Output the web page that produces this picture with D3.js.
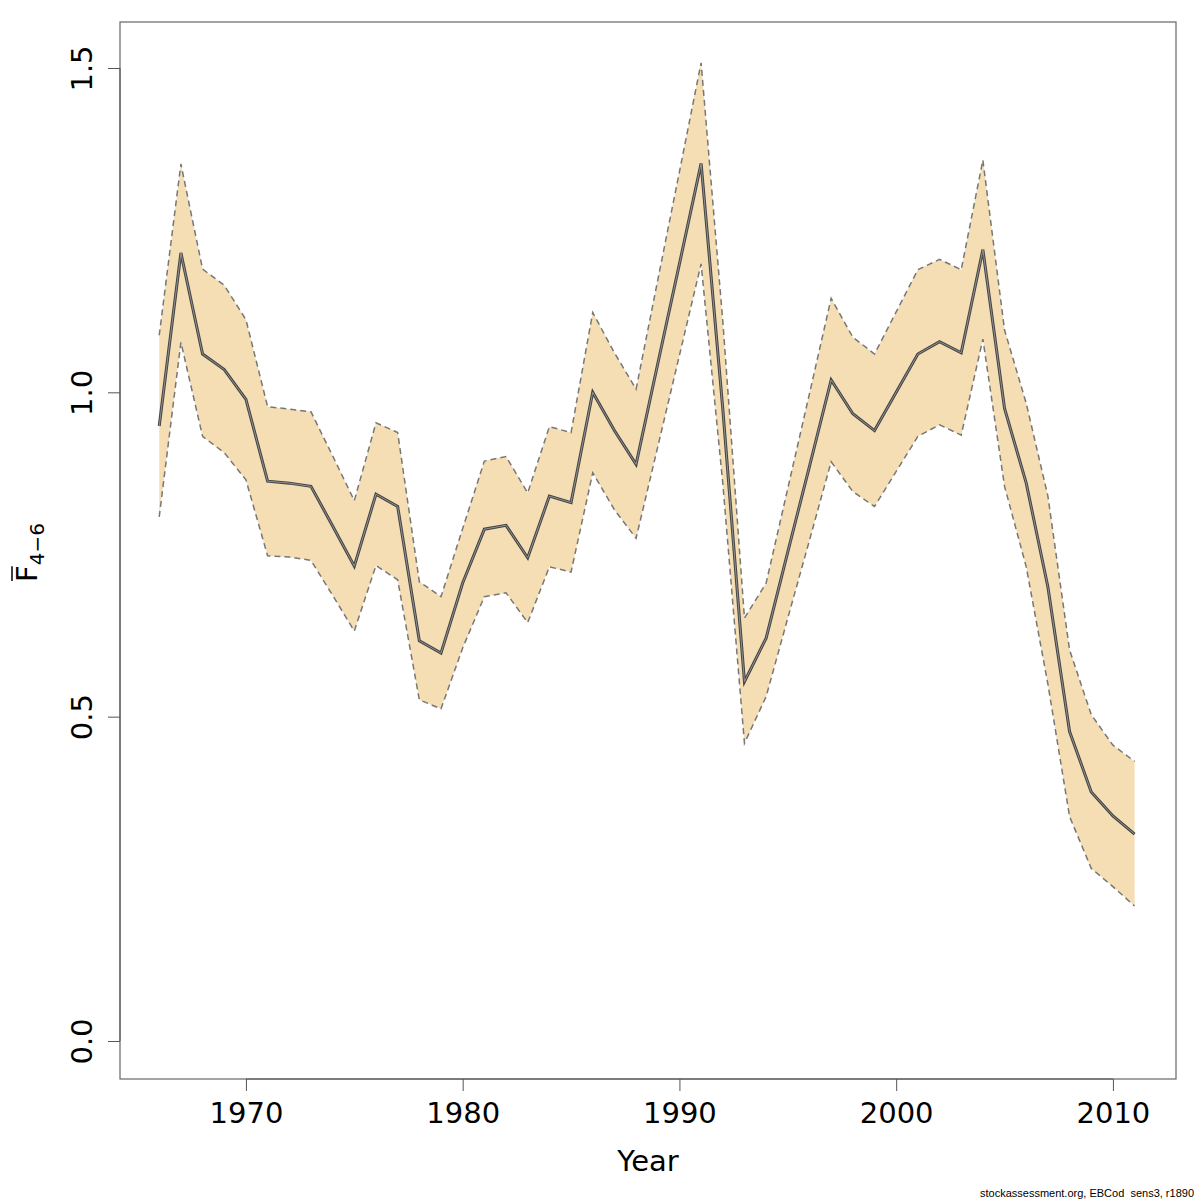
<!DOCTYPE html>
<html>
<head>
<meta charset="utf-8">
<script src="https://cdn.jsdelivr.net/npm/d3@7"></script>
<style>
  html, body { margin: 0; padding: 0; background: #fff; }
  svg { display: block; }
</style>
</head>
<body>
<script>
const years = d3.range(1966, 2012);
const fbar = [0.948,1.215,1.059,1.035,0.989,0.863,0.860,0.855,0.794,0.732,
  0.843,0.824,0.617,0.598,0.706,0.789,0.795,0.745,0.840,0.830,
  1.000,0.941,0.889,1.044,1.198,1.353,0.975,0.554,0.621,0.754,
  0.886,1.019,0.967,0.941,1.000,1.059,1.078,1.061,1.220,0.975,
  0.860,0.700,0.477,0.384,0.347,0.319];
const upper = [1.088,1.352,1.190,1.165,1.112,0.978,0.974,0.970,0.902,0.833,
  0.953,0.938,0.708,0.685,0.790,0.894,0.901,0.845,0.947,0.938,
  1.123,1.061,1.005,1.173,1.340,1.508,1.110,0.652,0.706,0.852,
  0.998,1.145,1.085,1.059,1.124,1.189,1.205,1.189,1.358,1.096,
  0.983,0.840,0.603,0.503,0.456,0.431];
const lower = [0.808,1.077,0.932,0.907,0.865,0.748,0.746,0.741,0.687,0.632,
  0.733,0.711,0.526,0.512,0.606,0.685,0.691,0.645,0.731,0.723,
  0.876,0.819,0.775,0.916,1.057,1.198,0.860,0.459,0.531,0.652,
  0.772,0.893,0.847,0.824,0.878,0.932,0.950,0.934,1.082,0.855,
  0.731,0.550,0.346,0.266,0.238,0.208];
const xTicks = [1970, 1980, 1990, 2000, 2010];
const yTicks = [0.0, 0.5, 1.0, 1.5];
const xLabel = "Year";
const footer = "stockassessment.org, EBCod  sens3, r1890";

const W = 1200, H = 1200;
const L = 120, R = 1176, T = 22, B = 1079;

const svg = d3.select("body").append("svg").attr("width", W).attr("height", H)
  .style("font-family", "'DejaVu Sans', sans-serif");

const x = d3.scaleLinear().domain([1964.19, 2012.91]).range([L, R]);
const y = d3.scaleLinear().domain([-0.0586, 1.5709]).range([B, T]);

const data = years.map((yr, i) => ({ yr, f: fbar[i], lo: lower[i], hi: upper[i] }));

// band
svg.append("path").datum(data)
  .attr("d", d3.area().x(d => x(d.yr)).y0(d => y(d.lo)).y1(d => y(d.hi)))
  .attr("fill", "#F5DEB3").attr("stroke", "none");

// dashed bounds
[d => d.hi, d => d.lo].forEach(acc => {
  svg.append("path").datum(data)
    .attr("d", d3.line().x(d => x(d.yr)).y(d => y(acc(d))))
    .attr("fill", "none").attr("stroke", "#777").attr("stroke-width", 1.5)
    .attr("stroke-dasharray", "6,4");
});

// main line (double stroke)
const mainLine = d3.line().x(d => x(d.yr)).y(d => y(d.f));
svg.append("path").datum(data).attr("d", mainLine)
  .attr("fill", "none").attr("stroke", "#444").attr("stroke-width", 3)
  .attr("stroke-linejoin", "miter");
svg.append("path").datum(data).attr("d", mainLine)
  .attr("fill", "none").attr("stroke", "#9a9a9a").attr("stroke-width", 0.9);

// box
svg.append("rect").attr("x", L).attr("y", T).attr("width", R - L).attr("height", B - T)
  .attr("fill", "none").attr("stroke", "#666").attr("stroke-width", 1.2);

// x axis
const gx = svg.append("g").attr("transform", `translate(0,${B})`)
  .call(d3.axisBottom(x).tickValues(xTicks).tickFormat(d3.format("d")).tickSize(12).tickPadding(0));
gx.select(".domain").attr("d", `M${x(xTicks[0])},0H${x(xTicks[xTicks.length-1])}`)
  .attr("stroke", "#555");
gx.selectAll(".tick line").attr("stroke", "#555");
gx.selectAll(".tick text").attr("font-size", 29).attr("fill", "#000")
  .attr("font-family", "'DejaVu Sans', sans-serif")
  .attr("dy", null).attr("y", 44);

// y axis
const gy = svg.append("g").attr("transform", `translate(${L},0)`)
  .call(d3.axisLeft(y).tickValues(yTicks).tickFormat(d3.format(".1f")).tickSize(12));
gy.select(".domain").attr("d", `M0,${y(yTicks[0])}V${y(yTicks[yTicks.length-1])}`)
  .attr("stroke", "#555");
gy.selectAll(".tick line").attr("stroke", "#555");
gy.selectAll(".tick text").remove();
gy.selectAll(".tick").append("text")
  .attr("transform", "translate(-28,0) rotate(-90)")
  .attr("text-anchor", "middle").attr("font-size", 29).attr("fill", "#000")
  .attr("font-family", "'DejaVu Sans', sans-serif")
  .text(d => d3.format(".1f")(d));

// x label
svg.append("text").attr("x", (L + R) / 2).attr("y", 1171)
  .attr("text-anchor", "middle").attr("font-size", 29).text(xLabel);

// y label: F-bar with subscript 4−6
const yl = svg.append("g").attr("transform", "translate(37,582) rotate(-90)");
const ytxt = yl.append("text").attr("x", 0).attr("y", 0).attr("font-size", 29);
const fSpan = ytxt.append("tspan").text("F");
ytxt.append("tspan").attr("font-size", 20).attr("dy", 7).text("4\u22126");
const fw = fSpan.node().getComputedTextLength();
yl.append("line").attr("x1", 1).attr("x2", fw - 1).attr("y1", -25).attr("y2", -25)
  .attr("stroke", "#000").attr("stroke-width", 1.5);

// footer
svg.append("text").attr("x", 1194).attr("y", 1197).attr("text-anchor", "end")
  .attr("font-family", "'Liberation Sans', Arial, sans-serif").attr("font-size", 11)
  .style("white-space", "pre").text(footer);
</script>
</body>
</html>
